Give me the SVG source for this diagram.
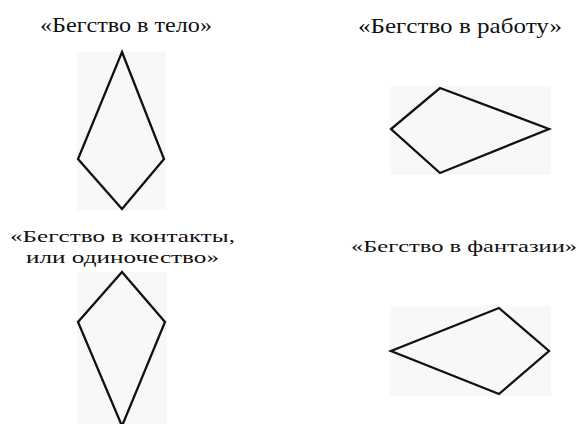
<svg xmlns="http://www.w3.org/2000/svg" width="580" height="424" viewBox="0 0 580 424">
<style>
.kite{fill:none;stroke:#111;stroke-width:2.3;stroke-linejoin:miter}
.t{font-family:'Liberation Serif',serif;fill:#111}
.bg{fill:#f8f8f8}
</style>
<rect width="580" height="424" fill="#fff"/>
<g id="paper">
<rect class="bg" x="77" y="52" width="89" height="158"/>
<rect class="bg" x="390" y="86" width="161" height="89"/>
<rect class="bg" x="77" y="272" width="90" height="152"/>
<rect class="bg" x="390" y="306" width="161" height="90"/>
</g>
<g id="node-body">
<text class="t" x="40" y="32" font-size="22" textLength="172" lengthAdjust="spacingAndGlyphs">«Бегство в тело»</text>
<polygon class="kite" points="122,52 164,159 122,209 78,159"/>
</g>
<g id="node-work">
<text class="t" x="358" y="33" font-size="22" textLength="204" lengthAdjust="spacingAndGlyphs">«Бегство в работу»</text>
<polygon class="kite" points="440,88 549,129 440,173 391,129"/>
</g>
<g id="node-contacts">
<text class="t" x="10" y="242" font-size="16.5" textLength="225" lengthAdjust="spacingAndGlyphs">«Бегство в контакты,</text>
<text class="t" x="26" y="263" font-size="16.5" textLength="193" lengthAdjust="spacingAndGlyphs">или одиночество»</text>
<polygon class="kite" points="122,272 165,322 122,426 78,322"/>
</g>
<g id="node-fantasy">
<text class="t" x="351" y="252" font-size="16.5" textLength="226" lengthAdjust="spacingAndGlyphs">«Бегство в фантазии»</text>
<polygon class="kite" points="499,308 549,351 499,394 391,351"/>
</g>
<g id="connectors"></g>
</svg>
